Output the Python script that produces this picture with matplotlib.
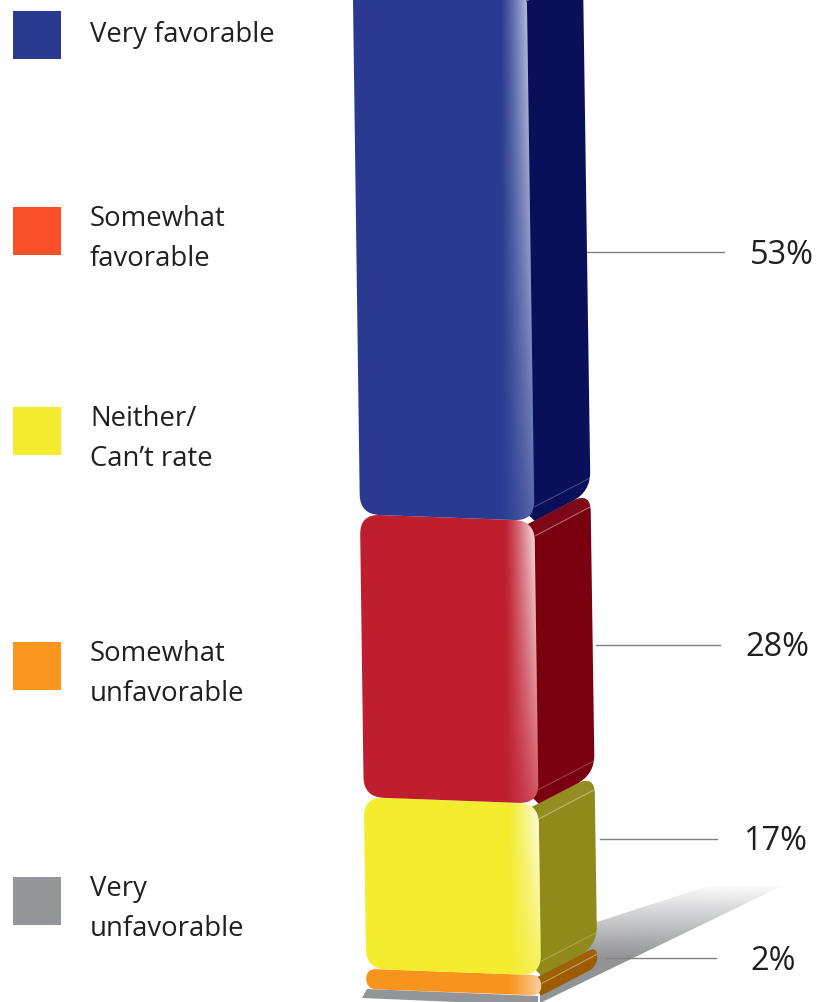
import matplotlib
matplotlib.use("Agg")
import matplotlib.pyplot as plt
import numpy as np
from matplotlib.path import Path
from matplotlib.patches import PathPatch, Polygon, Rectangle
from matplotlib.colors import to_rgb

plt.rcParams['font.family'] = ['Open Sans', 'DejaVu Sans']

# data, top of the stack first
categories = ['Very favorable', 'Somewhat\nfavorable', 'Neither/\nCan\u2019t rate',
              'Somewhat\nunfavorable', 'Very\nunfavorable']
values = [53, 28, 17, 2, 0]
legend_colors = ['#293a90', '#f9502a', '#f4ec2e', '#fa961e', '#939598']
front_colors = ['#293a90', '#bf1e2e', '#f4ec2e', '#f7941e', '#939598']
side_colors = ['#0a0f5a', '#7a0010', '#8f8a1a', '#9c5c00', '#939598']
highlight = [0.9, 1.0, 1.0, 0.6, 0.0]

# layout, in pixels of the picture
legend_y = [35, 231, 431, 666, 901]
leader_y = [252, 645, 839, 958]
leader_gap = [0, 3, 5, 9]
base_y = 989
px_per_pct = 10.1
depth_x, depth_y = 56, -29


def front_left(y):
    return 353 + y * 0.0135


def front_right(y):
    return 527 + y * 0.0145


def rounded(points, radii):
    # closed path through the points, each corner cut by a curve of its own radius
    verts, codes = [], []
    pts = [np.array(p, dtype=float) for p in points]
    n = len(pts)
    for i, p in enumerate(pts):
        prev_pt, next_pt = pts[i - 1], pts[(i + 1) % n]
        a = p + (prev_pt - p) / np.linalg.norm(prev_pt - p) * radii[i]
        b = p + (next_pt - p) / np.linalg.norm(next_pt - p) * radii[i]
        verts.append(a)
        codes.append(Path.MOVETO if i == 0 else Path.LINETO)
        verts += [p, b]
        codes += [Path.CURVE3, Path.CURVE3]
    verts.append(verts[0])
    codes.append(Path.CLOSEPOLY)
    return Path(verts, codes)


def lighten(color, amount):
    c = np.array(to_rgb(color))
    return tuple(c + (1 - c) * amount)


fig = plt.figure(figsize=(8.29, 10.02), dpi=100)
ax = fig.add_axes([0, 0, 1, 1])

# ground shadow
shadow = Polygon([(597, 922), (708, 886), (782, 886), (540, 1003), (540, 960)], closed=True,
                 facecolor='none', edgecolor='none')
ax.add_patch(shadow)
shade = np.zeros((116, 2, 4))
shade[..., :3] = to_rgb('#929497')
shade[..., 3] = np.clip(np.linspace(0.05, 1.6, 116), 0, 1)[:, None]
im = ax.imshow(shade, extent=(530, 790, 1002, 886), aspect='auto', zorder=1)
im.set_clip_path(shadow)

# stack boundaries from the cumulative values
cum = np.cumsum(values[::-1])[::-1]
tops = base_y - cum * px_per_pct
bottoms = base_y - (cum - np.array(values)) * px_per_pct

for i in range(len(values) - 1, -1, -1):
    z = 2 + (len(values) - i) * 3
    top, bottom = tops[i], bottoms[i]
    if values[i] == 0:
        # very unfavorable rounds to nothing, only a sliver shows under the stack
        gray = Polygon([(362, 998), (367, 989), (538, 996), (538, 1003), (480, 1003)], closed=True,
                       facecolor=front_colors[i], edgecolor='none', zorder=z)
        ax.add_patch(gray)
        continue
    small = values[i] < 5
    radius = 10 if small else 20
    slope = 6.5
    tl = (front_left(top), top)
    tr = (front_right(top), top + slope)
    br = (front_right(bottom), bottom + slope)
    bl = (front_left(bottom), bottom)

    # side face, its near edge tucked behind the front
    side = rounded([(tr[0] - 12, tr[1] + 6), (tr[0] + depth_x, tr[1] + depth_y),
                    (br[0] + depth_x, br[1] + depth_y), br, (br[0] - 8, br[1] - 8)],
                   [0, radius, radius, 0, 0])
    side_patch = PathPatch(side, facecolor=side_colors[i], edgecolor='none', zorder=z)
    ax.add_patch(side_patch)

    # lighter bevel band along the top of the side, with thin lines
    band_h = 8 if small else 15
    band = Polygon([tr, (tr[0] + depth_x, tr[1] + depth_y), (tr[0] + depth_x, tr[1] + depth_y + band_h),
                    (tr[0], tr[1] + band_h)], closed=True, facecolor=lighten(side_colors[i], 0.03),
                   edgecolor='none', zorder=z)
    ax.add_patch(band)
    band.set_clip_path(side_patch)
    line, = ax.plot([tr[0] + 1, tr[0] + depth_x], [tr[1] + band_h, tr[1] + band_h + depth_y],
                    color='white', lw=0.7, alpha=0.45, zorder=z)
    line.set_clip_path(side_patch)
    if not small:
        line, = ax.plot([br[0], br[0] + depth_x], [br[1] - 14, br[1] - 14 + depth_y],
                        color='white', lw=0.6, alpha=0.3, zorder=z)
        line.set_clip_path(side_patch)

    # front face
    front = rounded([tl, tr, br, bl], [radius] * 4)
    ax.add_patch(PathPatch(front, facecolor=front_colors[i], edgecolor='none', zorder=z + 1))

    # white sheen down the right edge of the front, fading towards the bottom
    ramp = np.zeros((60, 200, 4))
    ramp[..., :3] = 1
    across = np.clip((np.linspace(0, 1, 200) - 0.81) / 0.19, 0, 1) ** 1.2
    down = np.linspace(1, 0.25, 60) if not small else np.ones(60)
    ramp[..., 3] = np.outer(down, across) * highlight[i]
    im = ax.imshow(ramp, extent=(min(tl[0], bl[0]), max(tr[0], br[0]), bottom + slope, top),
                   aspect='auto', interpolation='bilinear', zorder=z + 2)
    im.set_clip_path(PathPatch(front, transform=ax.transData))

# leader lines and value labels
for i, y in enumerate(leader_y):
    x0 = 587 + y * 0.0135 - 3 + leader_gap[i]
    x1 = 727 - y * 0.0115
    ax.plot([x0, x1], [y, y], color='#808285', lw=1, zorder=30)
    ax.text(x1 + 57.5, y + 3, f'{values[i]}%', fontsize=23.4, color='#231f20', ha='center', va='center', zorder=31)

# legend on the left
for label, color, y in zip(categories, legend_colors, legend_y):
    ax.add_patch(Rectangle((13, y - 24), 48, 48, facecolor=color, edgecolor='none', zorder=30))
    ax.text(90, y if '\n' not in label else y + 8, label, fontsize=19.8, color='#231f20', ha='left',
            va='center', linespacing=1.55, zorder=31)

ax.set_xlim(0, 829)
ax.set_ylim(1002, 0)
ax.axis('off')
fig.savefig('out.png', dpi=100)
